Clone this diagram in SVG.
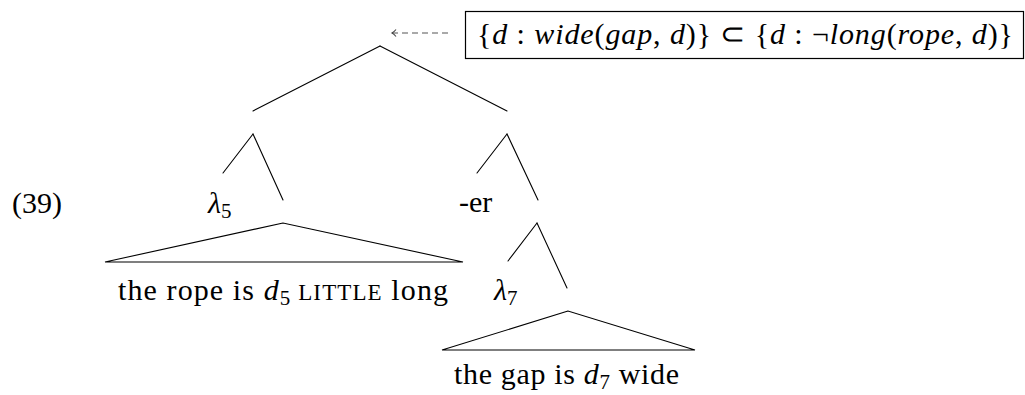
<svg xmlns="http://www.w3.org/2000/svg" width="1025" height="395" viewBox="0 0 1025 395">
<style>
  .ln { stroke: #000; stroke-width: 1.1; fill: none; stroke-linecap: round; }
  .tx { font-family: 'Liberation Serif', 'Times New Roman', serif; font-size: 30px; fill: #000; }
  .it { font-style: italic; }
  .sub { font-size: 21px; }
  .sc { font-size: 23px; }
</style>
<defs>
  <marker id="arr" viewBox="0 0 10 10" refX="6" refY="5" markerWidth="10" markerHeight="10" markerUnits="userSpaceOnUse" orient="auto">
    <path d="M2,1.5 Q4,4 6,5 Q4,6 2,8.5" fill="none" stroke="#444" stroke-width="1.1"/>
  </marker>
</defs>
<rect width="1025" height="395" fill="#fff"/>

<g id="connectors">
  <line class="ln" x1="380" y1="46" x2="253" y2="111"/>
  <line class="ln" x1="380" y1="46" x2="507" y2="111"/>
  <line class="ln" x1="253" y1="134" x2="223" y2="173"/>
  <line class="ln" x1="253" y1="134" x2="283" y2="200"/>
  <line class="ln" x1="507" y1="134" x2="477" y2="173"/>
  <line class="ln" x1="507" y1="134" x2="538" y2="200"/>
  <line class="ln" x1="537" y1="223" x2="508" y2="261"/>
  <line class="ln" x1="537" y1="223" x2="567" y2="288"/>
  <line x1="448" y1="33" x2="392" y2="33" stroke="#555" stroke-width="1.1" stroke-dasharray="6 4" marker-end="url(#arr)"/>
</g>

<g id="example-number">
  <text class="tx" font-family="Liberation Serif, serif" x="12" y="213">(39)</text>
</g>

<g id="node-lambda5">
  <text class="tx" font-family="Liberation Serif, serif" x="208" y="213"><tspan class="it">λ</tspan><tspan class="sub" dy="5">5</tspan></text>
</g>

<g id="node-rope">
  <polygon class="ln" points="283,223 105,262 463,262"/>
  <text class="tx" font-family="Liberation Serif, serif" x="118" y="300" textLength="330" lengthAdjust="spacing">the rope is <tspan class="it">d</tspan><tspan class="sub" dy="5">5</tspan><tspan dy="-5" class="sc"> LITTLE</tspan> long</text>
</g>

<g id="node-er">
  <text class="tx" font-family="Liberation Serif, serif" x="459" y="212">-er</text>
</g>

<g id="node-lambda7">
  <text class="tx" font-family="Liberation Serif, serif" x="494" y="300"><tspan class="it">λ</tspan><tspan class="sub" dy="5">7</tspan></text>
</g>

<g id="node-gap">
  <polygon class="ln" points="568,311 442,350 695,350"/>
  <text class="tx" font-family="Liberation Serif, serif" x="454" y="384" textLength="225" lengthAdjust="spacing">the gap is <tspan class="it">d</tspan><tspan class="sub" dy="5">7</tspan><tspan dy="-5"> wide</tspan></text>
</g>

<g id="annotation">
  <rect x="465.5" y="11.5" width="558" height="47" fill="none" stroke="#000" stroke-width="1.2"/>
  <text class="tx" font-family="Liberation Serif, serif" x="477" y="44" textLength="536" lengthAdjust="spacing">{<tspan class="it">d</tspan> : <tspan class="it">wide</tspan>(<tspan class="it">gap</tspan>, <tspan class="it">d</tspan>)} ⊂ {<tspan class="it">d</tspan> : ¬<tspan class="it">long</tspan>(<tspan class="it">rope</tspan>, <tspan class="it">d</tspan>)}</text>
</g>
</svg>
